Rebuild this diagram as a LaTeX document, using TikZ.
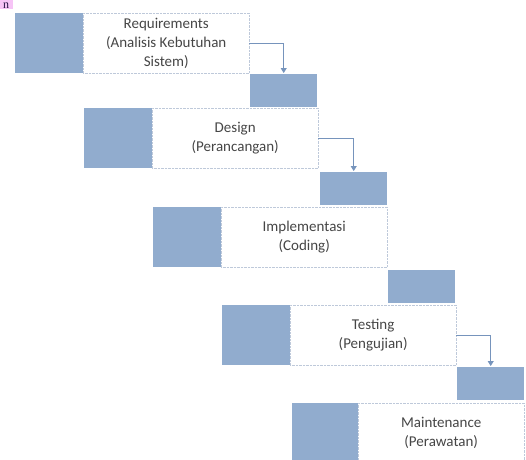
\documentclass[tikz,border=0pt]{standalone}
\usepackage{fontspec}
\setmainfont{Carlito}
\newfontfamily\markfont{Liberation Serif}
\usetikzlibrary{arrows.meta}
\definecolor{phaseblue}{RGB}{145,172,206}
\definecolor{dotgray}{RGB}{190,201,218}
\definecolor{arrowblue}{RGB}{118,148,188}
\definecolor{labelgray}{RGB}{70,70,70}
\definecolor{markpink}{RGB}{246,196,246}
\definecolor{markink}{RGB}{40,20,70}
\tikzset{
  bluebox/.style={fill=phaseblue, minimum width=68, minimum height=60, inner sep=0, anchor=north west},
  phasebox/.style={draw=dotgray, densely dotted, fill=white, minimum width=166, minimum height=60,
    inner sep=0, anchor=north west, align=center, text=labelgray, font=\fontsize{15}{19}\selectfont},
  gapbox/.style={fill=phaseblue, minimum width=67, minimum height=33, inner sep=0, anchor=north west},
  flow/.style={draw=arrowblue, line width=0.8pt, -{Triangle[width=6pt,length=5pt]}, shorten >=1pt}
}
\begin{document}
\begin{tikzpicture}[x=1pt,y=-1pt]
  \useasboundingbox (0,0) rectangle (526,459);
  % heading mark
  \fill[markpink] (0,0) rectangle (13,9);
  \node[anchor=base, inner sep=0, text=markink, font=\markfont\fontsize{12}{12}\selectfont] (mark) at (6,8) {n};
  % requirements
  \node[bluebox] (req-b) at (15,13) {};
  \node[phasebox] (req) at (83,13) {Requirements\\(Analisis Kebutuhan\\Sistem)};
  \node[gapbox] (req-g) at (250,74) {};
  \draw[flow] (req.east) -| (req-g.north);
  % design
  \node[bluebox] (des-b) at (84,108) {};
  \node[phasebox] (des) at (152,108) {Design\\(Perancangan)};
  \node[gapbox] (des-g) at (320,172) {};
  \draw[flow] (des.east) -| (des-g.north);
  % implementasi
  \node[bluebox] (imp-b) at (153,207) {};
  \node[phasebox] (imp) at (221,207) {Implementasi\\(Coding)};
  \node[gapbox] (imp-g) at (388,270) {};
  % testing
  \node[bluebox] (tes-b) at (222,305) {};
  \node[phasebox] (tes) at (290,305) {Testing\\(Pengujian)};
  \node[gapbox] (tes-g) at (457,367) {};
  \draw[flow] (tes.east) -| (tes-g.north);
  % maintenance
  \node[bluebox] (mai-b) at (292,403) {};
  \node[phasebox] (mai) at (358,403) {Maintenance\\(Perawatan)};
\end{tikzpicture}
\end{document}
